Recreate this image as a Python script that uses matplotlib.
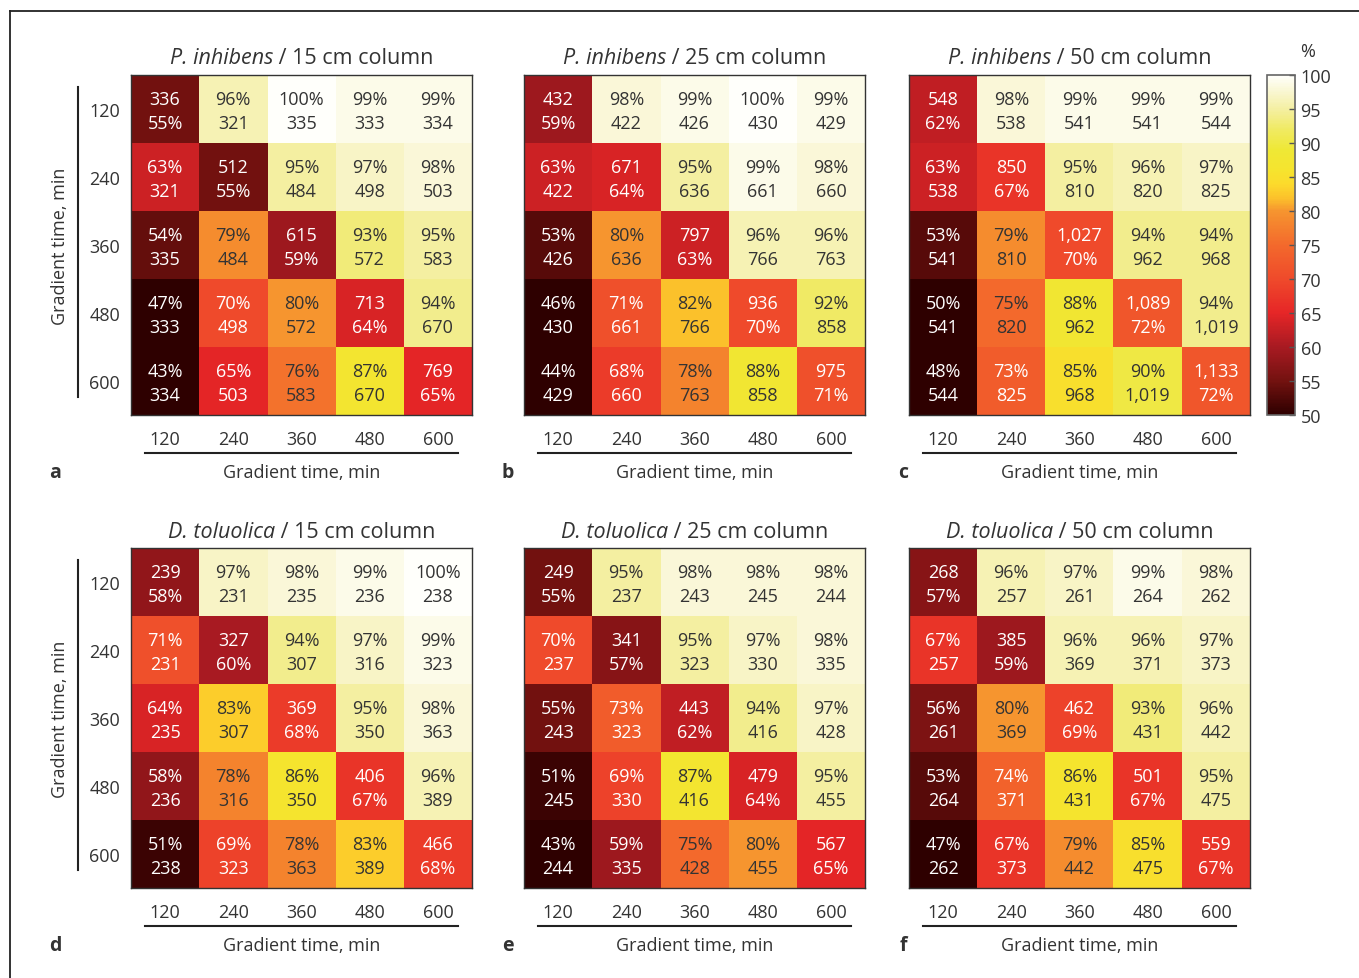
import numpy as np
import matplotlib
matplotlib.use("Agg")
import matplotlib.pyplot as plt
from matplotlib.colors import LinearSegmentedColormap
from matplotlib.lines import Line2D

plt.rcParams['font.family'] = ['Open Sans', 'DejaVu Sans']

gradients = [120, 240, 360, 480, 600]

organisms = ['P. inhibens', 'P. inhibens', 'P. inhibens',
             'D. toluolica', 'D. toluolica', 'D. toluolica']
columns = ['15 cm', '25 cm', '50 cm', '15 cm', '25 cm', '50 cm']
letters = ['a', 'b', 'c', 'd', 'e', 'f']

# percent overlap (diagonal: share of unique IDs in that run)
pct_a = [[55, 96, 100, 99, 99],
         [63, 55, 95, 97, 98],
         [54, 79, 59, 93, 95],
         [47, 70, 80, 64, 94],
         [43, 65, 76, 87, 65]]
pct_b = [[59, 98, 99, 100, 99],
         [63, 64, 95, 99, 98],
         [53, 80, 63, 96, 96],
         [46, 71, 82, 70, 92],
         [44, 68, 78, 88, 71]]
pct_c = [[62, 98, 99, 99, 99],
         [63, 67, 95, 96, 97],
         [53, 79, 70, 94, 94],
         [50, 75, 88, 72, 94],
         [48, 73, 85, 90, 72]]
pct_d = [[58, 97, 98, 99, 100],
         [71, 60, 94, 97, 99],
         [64, 83, 68, 95, 98],
         [58, 78, 86, 67, 96],
         [51, 69, 78, 83, 68]]
pct_e = [[55, 95, 98, 98, 98],
         [70, 57, 95, 97, 98],
         [55, 73, 62, 94, 97],
         [51, 69, 87, 64, 95],
         [43, 59, 75, 80, 65]]
pct_f = [[57, 96, 97, 99, 98],
         [67, 59, 96, 96, 97],
         [56, 80, 69, 93, 96],
         [53, 74, 86, 67, 95],
         [47, 67, 79, 85, 67]]

# identification counts (diagonal: total, off-diagonal: shared)
cnt_a = [[336, 321, 335, 333, 334],
         [321, 512, 484, 498, 503],
         [335, 484, 615, 572, 583],
         [333, 498, 572, 713, 670],
         [334, 503, 583, 670, 769]]
cnt_b = [[432, 422, 426, 430, 429],
         [422, 671, 636, 661, 660],
         [426, 636, 797, 766, 763],
         [430, 661, 766, 936, 858],
         [429, 660, 763, 858, 975]]
cnt_c = [[548, 538, 541, 541, 544],
         [538, 850, 810, 820, 825],
         [541, 810, 1027, 962, 968],
         [541, 820, 962, 1089, 1019],
         [544, 825, 968, 1019, 1133]]
cnt_d = [[239, 231, 235, 236, 238],
         [231, 327, 307, 316, 323],
         [235, 307, 369, 350, 363],
         [236, 316, 350, 406, 389],
         [238, 323, 363, 389, 466]]
cnt_e = [[249, 237, 243, 245, 244],
         [237, 341, 323, 330, 335],
         [243, 323, 443, 416, 428],
         [245, 330, 416, 479, 455],
         [244, 335, 428, 455, 567]]
cnt_f = [[268, 257, 261, 264, 262],
         [257, 385, 369, 371, 373],
         [261, 369, 462, 431, 442],
         [264, 371, 431, 501, 475],
         [262, 373, 442, 475, 559]]

pcts = [pct_a, pct_b, pct_c, pct_d, pct_e, pct_f]
cnts = [cnt_a, cnt_b, cnt_c, cnt_d, cnt_e, cnt_f]

cmap = LinearSegmentedColormap.from_list('overlap', [
    (0.00, '#2e0000'),
    (0.10, '#741210'),
    (0.20, '#a81a22'),
    (0.30, '#e62627'),
    (0.40, '#ef4a2b'),
    (0.50, '#f3692c'),
    (0.60, '#f6952f'),
    (0.64, '#fcc22b'),
    (0.68, '#fcda2c'),
    (0.72, '#f6e42e'),
    (0.78, '#efe835'),
    (0.84, '#f0ea62'),
    (0.90, '#f4efa0'),
    (0.95, '#f9f6cf'),
    (1.00, '#fffffb'),
])

W, H = 1359, 979
fig = plt.figure(figsize=(W / 100, H / 100), dpi=100)
renderer = fig.canvas.get_renderer()


def px_axes(x0, y0, x1, y1):
    return fig.add_axes([x0 / W, 1 - y1 / H, (x1 - x0) / W, (y1 - y0) / H])


def two_part_title(cx, cy, italic, rest, size):
    # italic organism name followed by upright remainder, centred as one line
    t1 = fig.text(0, 1 - cy / H, italic, fontsize=size, fontstyle='italic',
                  color=txt_dark, ha='left', va='center')
    t2 = fig.text(0, 1 - cy / H, rest, fontsize=size, color=txt_dark,
                  ha='left', va='center')
    w1 = t1.get_window_extent(renderer).width
    w2 = t2.get_window_extent(renderer).width
    left = cx - (w1 + w2) / 2
    t1.set_x(left / W)
    t2.set_x((left + w1) / W)


# outer frame
fig.add_artist(Line2D([10 / W, 10 / W], [0, 1 - 12 / H], color='#222222', lw=1.3))
fig.add_artist(Line2D([10 / W, 1], [1 - 12 / H, 1 - 12 / H], color='#222222', lw=1.3))

xs = [131, 524, 909]
ys = [76, 549]
fs = 13
txt_dark = '#333333'

for k in range(6):
    r, c = divmod(k, 3)
    x0, y0 = xs[c], ys[r]
    ax = px_axes(x0, y0, x0 + 341, y0 + 340)
    p = np.array(pcts[k], dtype=float)
    n = np.array(cnts[k])
    ax.imshow(p, cmap=cmap, vmin=50, vmax=100, aspect='auto',
              interpolation='nearest')
    for i in range(5):
        for j in range(5):
            col = 'white' if p[i, j] < 75 else txt_dark
            cs = f"{n[i, j]:,}"
            ps = f"{int(p[i, j])}%"
            top, bot = (cs, ps) if i == j else (ps, cs)
            ax.text(j, i - 0.15, top, ha='center', va='center', color=col, fontsize=fs)
            ax.text(j, i + 0.21, bot, ha='center', va='center', color=col, fontsize=fs)
    for s in ax.spines.values():
        s.set_color('#333333')
        s.set_linewidth(1.0)
    ax.set_xticks(range(5))
    ax.set_xticklabels(gradients, fontsize=fs, color=txt_dark)
    ax.tick_params(axis='x', length=0, pad=11)
    if c == 0:
        ax.set_yticks(range(5))
        ax.set_yticklabels(gradients, fontsize=fs, color=txt_dark)
        ax.tick_params(axis='y', length=0, pad=8)
        ax.plot([-0.155, -0.155], [0.053, 0.965], transform=ax.transAxes,
                color='#222222', lw=1.5, clip_on=False)
        ax.text(-0.207, 0.5, 'Gradient time, min', transform=ax.transAxes,
                rotation=90, ha='center', va='center', fontsize=fs, color=txt_dark)
    else:
        ax.set_yticks([])
    ax.plot([0.041, 0.959], [-0.112, -0.112], transform=ax.transAxes,
            color='#222222', lw=1.5, clip_on=False)
    ax.text(0.5, -0.168, 'Gradient time, min', transform=ax.transAxes,
            ha='center', va='center', fontsize=fs, color=txt_dark)
    two_part_title(x0 + 170.5, y0 - 17, organisms[k], f" / {columns[k]} column", 15.5)
    lx = [55, 508, 903][c]
    ax.text((lx - x0) / 341, -0.168, letters[k], transform=ax.transAxes,
            ha='center', va='center', fontsize=14, fontweight='bold', color=txt_dark)

# colour scale
cax = px_axes(1267, 76, 1295, 416)
sm = plt.cm.ScalarMappable(cmap=cmap, norm=plt.Normalize(50, 100))
cb = fig.colorbar(sm, cax=cax, ticks=range(50, 101, 5))
cb.outline.set_edgecolor('#666666')
cb.outline.set_linewidth(1.2)
cax.tick_params(labelsize=fs, length=4, width=1, direction='in', color='#555555',
                labelcolor=txt_dark, pad=4)
cax.text(1.45, 1.07, '%', transform=cax.transAxes, ha='center', va='center',
         fontsize=fs, color=txt_dark)

fig.savefig('out.png', dpi=100)
